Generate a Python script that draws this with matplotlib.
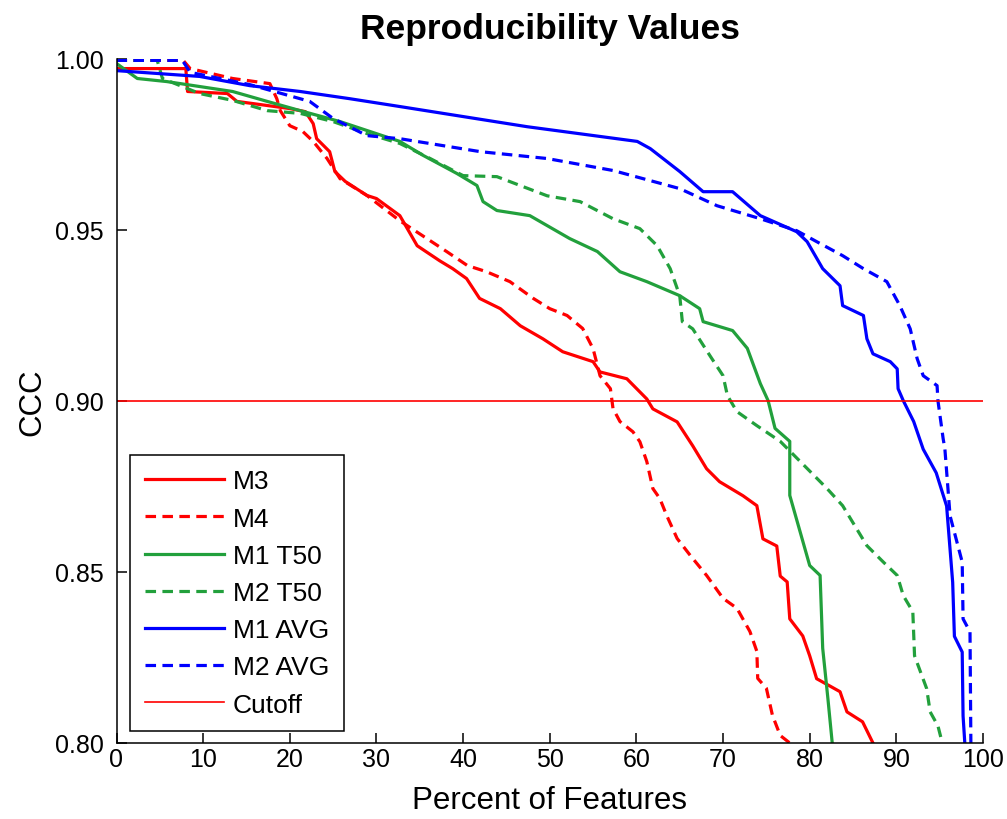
import matplotlib
matplotlib.use("Agg")
import matplotlib.pyplot as plt

plt.rcParams["font.family"] = ["Liberation Sans", "DejaVu Sans"]

# traced curves: x = percent of features, y = CCC
m3_x = [0, 8.0, 8.2, 12.8, 13.9, 17.4, 20.0, 21.8, 22.7, 23.1, 24.6, 25.2, 26.4,
        28.9, 30.0, 32.7, 34.7, 37.3, 38.8, 40.4, 41.9, 44.3, 46.6, 49.2, 51.5,
        55.0, 55.8, 58.9, 61.2, 61.9, 64.7, 66.5, 68.1, 69.6, 72.3, 73.9, 74.6,
        76.2, 76.6, 77.4, 77.7, 79.2, 80.0, 80.8, 82.3, 83.5, 84.3, 86.1, 87.3]
m3_y = [0.9972, 0.9972, 0.9905, 0.9899, 0.9876, 0.9864, 0.9855, 0.9846, 0.9811,
        0.9767, 0.9729, 0.9671, 0.9642, 0.9601, 0.9592, 0.9542, 0.9454, 0.9410,
        0.9387, 0.9358, 0.9300, 0.9270, 0.9220, 0.9182, 0.9144, 0.9115, 0.9085,
        0.9065, 0.9006, 0.8977, 0.8939, 0.8869, 0.8802, 0.8764, 0.8723, 0.8694,
        0.8597, 0.8576, 0.8488, 0.8471, 0.8363, 0.8313, 0.8255, 0.8188, 0.8167,
        0.8150, 0.8091, 0.8062, 0.8000]

m4_x = [0, 7.7, 8.5, 13.4, 17.7, 18.5, 18.9, 20.0, 21.5, 22.7, 24.3, 25.8, 28.9,
        32.7, 38.1, 40.5, 42.7, 45.4, 48.1, 50.0, 52.0, 53.8, 55.0, 55.8, 57.0,
        57.3, 58.1, 59.6, 60.4, 61.2, 61.9, 62.7, 63.5, 64.7, 66.2, 68.1, 70.0,
        71.6, 73.1, 73.9, 74.0, 75.0, 75.7, 76.6, 77.7]
m4_y = [0.9996, 0.9996, 0.9972, 0.9943, 0.9928, 0.9884, 0.9849, 0.9805, 0.9788,
        0.9759, 0.9709, 0.9650, 0.9601, 0.9527, 0.9437, 0.9396, 0.9378, 0.9349,
        0.9300, 0.9270, 0.9250, 0.9212, 0.9153, 0.9074, 0.9036, 0.8978, 0.8940,
        0.8910, 0.8881, 0.8823, 0.8744, 0.8715, 0.8665, 0.8598, 0.8549, 0.8490,
        0.8423, 0.8394, 0.8326, 0.8268, 0.8189, 0.8160, 0.8081, 0.8022, 0.8000]

m1t50_x = [0, 2.4, 5.8, 13.4, 17.4, 21.2, 25.8, 32.7, 35.4, 39.3, 41.6, 42.3,
           43.9, 47.7, 52.3, 55.5, 58.1, 61.2, 65.0, 67.3, 67.7, 71.1, 72.8,
           74.3, 75.2, 76.0, 77.7, 77.7, 80.0, 81.2, 81.5, 82.1, 82.6]
m1t50_y = [0.9987, 0.9943, 0.9934, 0.9905, 0.9876, 0.9849, 0.9817, 0.9759,
           0.9718, 0.9665, 0.9630, 0.9583, 0.9557, 0.9542, 0.9475, 0.9437,
           0.9378, 0.9349, 0.9308, 0.9270, 0.9232, 0.9206, 0.9154, 0.9051,
           0.9001, 0.8920, 0.8882, 0.8724, 0.8519, 0.8490, 0.8277, 0.8130, 0.8000]

m2t50_x = [0, 4.7, 5.3, 9.6, 13.4, 17.4, 21.2, 25.0, 28.9, 32.7, 36.2, 40.0,
           43.9, 49.7, 53.5, 57.3, 60.4, 62.4, 63.9, 65.0, 65.3, 66.5, 68.5,
           70.0, 70.5, 71.6, 73.9, 76.6, 82.0, 83.8, 86.6, 88.5, 90.1, 90.8,
           91.9, 92.1, 93.5, 93.9, 94.8, 95.3]
m2t50_y = [0.9996, 0.9996, 0.9943, 0.9899, 0.9879, 0.9849, 0.9841, 0.9817,
           0.9782, 0.9753, 0.9709, 0.9659, 0.9656, 0.9600, 0.9583, 0.9533,
           0.9504, 0.9454, 0.9387, 0.9308, 0.9232, 0.9211, 0.9132, 0.9074,
           0.9016, 0.8969, 0.8928, 0.8882, 0.8744, 0.8694, 0.8577, 0.8529,
           0.8490, 0.8431, 0.8384, 0.8255, 0.8159, 0.8091, 0.8050, 0.8000]

m1avg_x = [0, 9.6, 15.4, 21.2, 26.9, 32.7, 47.4, 60.1, 61.6, 65.0, 67.7, 71.1,
           74.3, 78.5, 79.7, 81.5, 83.5, 83.8, 86.2, 86.6, 87.3, 89.3, 90.1,
           90.2, 90.8, 92.0, 93.1, 94.6, 95.8, 96.5, 96.7, 97.6, 97.7, 97.9]
m1avg_y = [0.9966, 0.9949, 0.9922, 0.9905, 0.9884, 0.9861, 0.9802, 0.9759,
           0.9738, 0.9671, 0.9612, 0.9612, 0.9542, 0.9495, 0.9466, 0.9387,
           0.9337, 0.9279, 0.9250, 0.9182, 0.9138, 0.9115, 0.9094, 0.9036,
           0.9001, 0.8940, 0.8859, 0.8790, 0.8693, 0.8470, 0.8312, 0.8266,
           0.8079, 0.8000]

m2avg_x = [0, 7.6, 8.5, 15.4, 22.3, 25.0, 28.9, 32.7, 42.0, 49.7, 57.3, 65.0,
           69.3, 74.3, 78.5, 80.8, 83.8, 86.2, 88.9, 90.4, 91.6, 92.4, 93.1,
           94.7, 94.8, 95.4, 95.6, 96.2, 97.6, 97.7, 98.5, 98.6]
m2avg_y = [0.9996, 0.9996, 0.9961, 0.9925, 0.9876, 0.9826, 0.9776, 0.9767,
           0.9729, 0.9709, 0.9674, 0.9621, 0.9571, 0.9533, 0.9498, 0.9466,
           0.9425, 0.9387, 0.9349, 0.9279, 0.9211, 0.9124, 0.9074, 0.9045,
           0.9001, 0.8890, 0.8860, 0.8664, 0.8529, 0.8363, 0.8325, 0.8000]

cutoff = 0.90
x_ticks = [0, 10, 20, 30, 40, 50, 60, 70, 80, 90, 100]
y_ticks = [0.80, 0.85, 0.90, 0.95, 1.00]

RED = "#ff0000"
GREEN = "#22a03c"
BLUE = "#0000ff"
DASH = (0, (3.3, 2.0))

fig = plt.figure(figsize=(10.07, 8.2), dpi=100)
ax = fig.add_axes([116.5 / 1007, 76 / 820, 866.5 / 1007, 684 / 820])

lw = 2.3
ax.plot(m3_x, m3_y, color=RED, lw=lw, label="M3")
ax.plot(m4_x, m4_y, color=RED, lw=lw, linestyle=DASH, label="M4")
ax.plot(m1t50_x, m1t50_y, color=GREEN, lw=lw, label="M1 T50")
ax.plot(m2t50_x, m2t50_y, color=GREEN, lw=lw, linestyle=DASH, label="M2 T50")
ax.plot(m1avg_x, m1avg_y, color=BLUE, lw=lw, label="M1 AVG")
ax.plot(m2avg_x, m2avg_y, color=BLUE, lw=lw, linestyle=DASH, label="M2 AVG")
ax.plot([0, 100], [cutoff, cutoff], color=RED, lw=1.2, label="Cutoff")

ax.set_xlim(0, 100)
ax.set_ylim(0.80, 1.00)
ax.set_xticks(x_ticks)
ax.set_yticks(y_ticks)
ax.set_yticklabels([f"{v:.2f}" for v in y_ticks])
for side in ("top", "right"):
    ax.spines[side].set_visible(False)
for side in ("left", "bottom"):
    ax.spines[side].set_linewidth(1.1)
ax.tick_params(axis="both", direction="in", length=7, width=1.1,
               labelsize=18, colors="black")
ax.tick_params(axis="x", pad=3)
ax.tick_params(axis="y", pad=9)

ax.set_title("Reproducibility Values", fontsize=25.5, fontweight="bold", pad=15)
ax.set_xlabel("Percent of Features", fontsize=22.5)
ax.set_ylabel("CCC", fontsize=22.5)
ax.xaxis.set_label_coords(0.5, -0.061)
ax.yaxis.set_label_coords(-0.08, 0.5)

leg = ax.legend(loc="lower left", bbox_to_anchor=(0.0156, 0.0175),
                borderaxespad=0, fontsize=19, handlelength=3.0,
                handletextpad=0.35, labelspacing=0.5, borderpad=0.55,
                fancybox=False, framealpha=1, edgecolor="black")
leg.get_frame().set_linewidth(1.1)

fig.savefig("out.png", dpi=100)
